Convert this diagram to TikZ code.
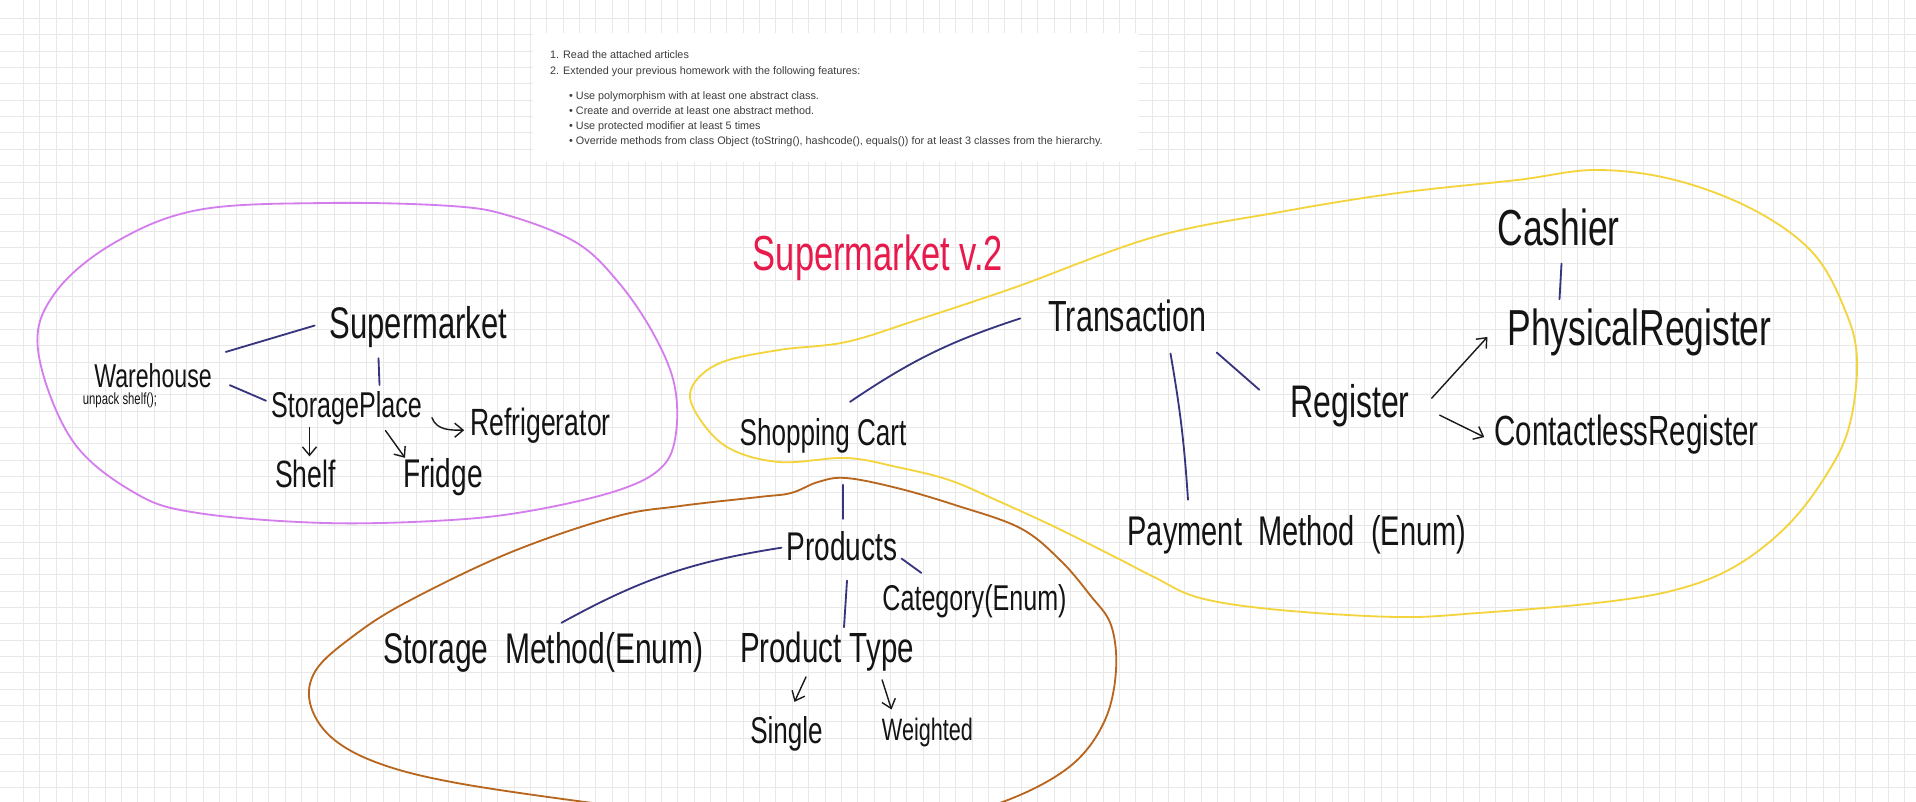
\documentclass[tikz,border=0pt]{standalone}
\usepackage{fontspec}
\setmainfont{Liberation Sans}
\newfontfamily\handfont[FakeStretch=0.7]{Liberation Sans}
\usetikzlibrary{arrows.meta}
\definecolor{inknavy}{HTML}{38357F}
\definecolor{gridgray}{HTML}{E8E8E8}
\definecolor{titlered}{HTML}{E8194B}
\definecolor{blobpurple}{HTML}{D47EEE}
\definecolor{blobyellow}{HTML}{F4D43C}
\definecolor{bloborange}{HTML}{B8661E}
\definecolor{tasktext}{HTML}{3C3C3C}

\begin{document}
\begin{tikzpicture}[x=0.5mm, y=-0.5mm,
  hand/.style={font=\handfont\fontsize{#1}{#1}\selectfont, anchor=base, inner sep=0pt, text=black!92},
  taskline/.style={font=\fontsize{15.4}{18}\selectfont, anchor=base west, inner sep=0pt, text=tasktext},
  link/.style={draw=inknavy, line width=2.6pt, line cap=round},
  harrow/.style={draw=black!90, line width=2pt, line cap=round, line join=round, -{Straight Barb[length=12pt, width=20pt]}},
  blob/.style={line width=2.6pt, line join=round},
  gridline/.style={draw=gridgray, line width=1.2pt},
]
\useasboundingbox (0,0) rectangle (1916,802);
\clip (0,0) rectangle (1916,802);
\fill[white] (0,0) rectangle (1916,802);

% squared paper
\foreach \gx in {23.3,39.66,...,1916} \draw[gridline] (\gx,0) -- (\gx,802);
\foreach \gy in {18.4,34.76,...,802} \draw[gridline] (0,\gy) -- (1916,\gy);

% homework task
\fill[white] (533,33) rectangle (1139,162);
\node[taskline] (task1) at (550,58) {1. Read the attached articles};
\node[taskline] (task2) at (550,74) {2. Extended your previous homework with the following features:};
\node[taskline] (feat1) at (569,99) {• Use polymorphism with at least one abstract class.};
\node[taskline] (feat2) at (569,114) {• Create and override at least one abstract method.};
\node[taskline] (feat3) at (569,129) {• Use protected modifier at least 5 times};
\node[taskline] (feat4) at (569,144) {• Override methods from class Object (toString(), hashcode(), equals()) for at least 3 classes from the hierarchy.};

% group outlines
\draw[blob, blobpurple] plot[smooth cycle, tension=0.6] coordinates {(38,350) (55,293) (114,243) (198,210) (325,203) (451,206) (510,216) (577,243) (619,283) (653,333) (674,383) (676,433) (662,467) (619,490) (535,510) (451,520) (325,523) (198,513) (135,493) (72,440)};
\draw[blob, blobyellow] plot[smooth cycle, tension=0.6] coordinates {(692,387) (720,363) (779,350) (846,342) (917,320) (1016,287) (1154,237) (1280,212) (1398,193) (1517,180) (1596,170) (1675,180) (1754,210) (1813,253) (1845,310) (1857,360) (1849,427) (1825,477) (1786,527) (1734,567) (1675,590) (1596,603) (1478,613) (1398,617) (1280,610) (1200,598) (1154,577) (1115,557) (1055,527) (996,500) (949,480) (897,467) (846,458) (779,462) (727,447) (696,413)};
\draw[blob, bloborange] plot[smooth cycle, tension=0.6] coordinates {(846,478) (897,488) (955,505) (1020,528) (1060,560) (1090,595) (1111,625) (1116,670) (1105,720) (1074,763) (1020,795) (960,812) (850,822) (720,818) (600,804) (457,783) (378,763) (331,737) (310,703) (316,670) (352,637) (405,603) (509,553) (614,517) (680,506) (759,497) (791,493) (818,482)};

% title
\node[hand=70, text=titlered] (title) at (878,270) {Supermarket v.2};

% storage side
\node[hand=63] (smkt) at (418.5,338) {Supermarket};
\node[hand=47] (whouse) at (153,387) {Warehouse};
\node[hand=23] (whnote) at (120,404) {unpack shelf();};
\node[hand=51] (splace) at (346.5,417) {StoragePlace};
\node[hand=54] (refr) at (540.5,435) {Refrigerator};
\node[hand=54] (shelf) at (305.5,487) {Shelf};
\node[hand=57] (fridge) at (443,487) {Fridge};

% checkout side
\node[hand=62] (trans) at (1127.5,331) {Transaction};
\node[hand=53] (cart) at (823,445) {Shopping Cart};
\node[hand=59] (payment) at (1297,545) {Payment\ \ Method\ \ (Enum)};
\node[hand=65] (register) at (1350,417) {Register};
\node[hand=72] (physreg) at (1639.5,345) {PhysicalRegister};
\node[hand=72] (cashier) at (1558.5,245) {Cashier};
\node[hand=60] (contreg) at (1626.5,445) {ContactlessRegister};

% products side
\node[hand=57] (products) at (842,560) {Products};
\node[hand=51] (category) at (974.5,610) {Category(Enum)};
\node[hand=61] (storemethod) at (543.5,663) {Storage\ \ Method(Enum)};
\node[hand=60] (prodtype) at (827,662) {Product Type};
\node[hand=53] (single) at (786.5,743) {Single};
\node[hand=44] (weighted) at (927.5,740) {Weighted};

% links
\draw[link] ([shift={(14,-11)}]whouse.north east) -- ([shift={(-15,-1)}]smkt.west);
\draw[link] ([shift={(-40,11)}]smkt.south) -- ([shift={(33,-6)}]splace.north);
\draw[link] ([shift={(18,10)}]whouse.east) -- ([shift={(-5,-7)}]splace.west);
\draw[harrow] ([shift={(-37,3)}]splace.south) -- ([shift={(4,-3)}]shelf.north);
\draw[harrow] ([shift={(39,6)}]splace.south) -- ([shift={(-38,0)}]fridge.north);
\draw[harrow] ([shift={(10,10)}]splace.east) to[out=-70, in=180] ([shift={(-6,5)}]refr.west);

\draw[link] ([shift={(-28,3)}]trans.west) to[bend right=8] ([shift={(27,-16)}]cart.north);
\draw[link] ([shift={(43,22)}]trans.south) to[bend left=3] ([shift={(-109,-15)}]payment.north);
\draw[link] ([shift={(10,21)}]trans.south east) -- ([shift={(-31,6)}]register.north west);
\draw[harrow] ([shift={(22,-7)}]register.east) -- ([shift={(-20,5)}]physreg.west);
\draw[harrow] ([shift={(30,10)}]register.east) -- ([shift={(-10,3)}]contreg.west);
\draw[link] ([shift={(3,18)}]cashier.south) -- ([shift={(-80,-9)}]physreg.north);

\draw[link] ([shift={(20,32)}]cart.south) -- ([shift={(1,-12)}]products.north);
\draw[link] ([shift={(-5,2)}]products.west) to[bend right=10] ([shift={(18,-9)}]storemethod.north);
\draw[link] ([shift={(4,-2)}]products.south east) -- ([shift={(39,-11)}]category.north west);
\draw[link] ([shift={(5,20)}]products.south) -- ([shift={(17,-4)}]prodtype.north);
\draw[harrow] ([shift={(-21,6)}]prodtype.south) -- ([shift={(8,-14)}]single.north);
\draw[harrow] ([shift={(-32,9)}]prodtype.south east) -- ([shift={(-36,-8)}]weighted.north);
\end{tikzpicture}
\end{document}
